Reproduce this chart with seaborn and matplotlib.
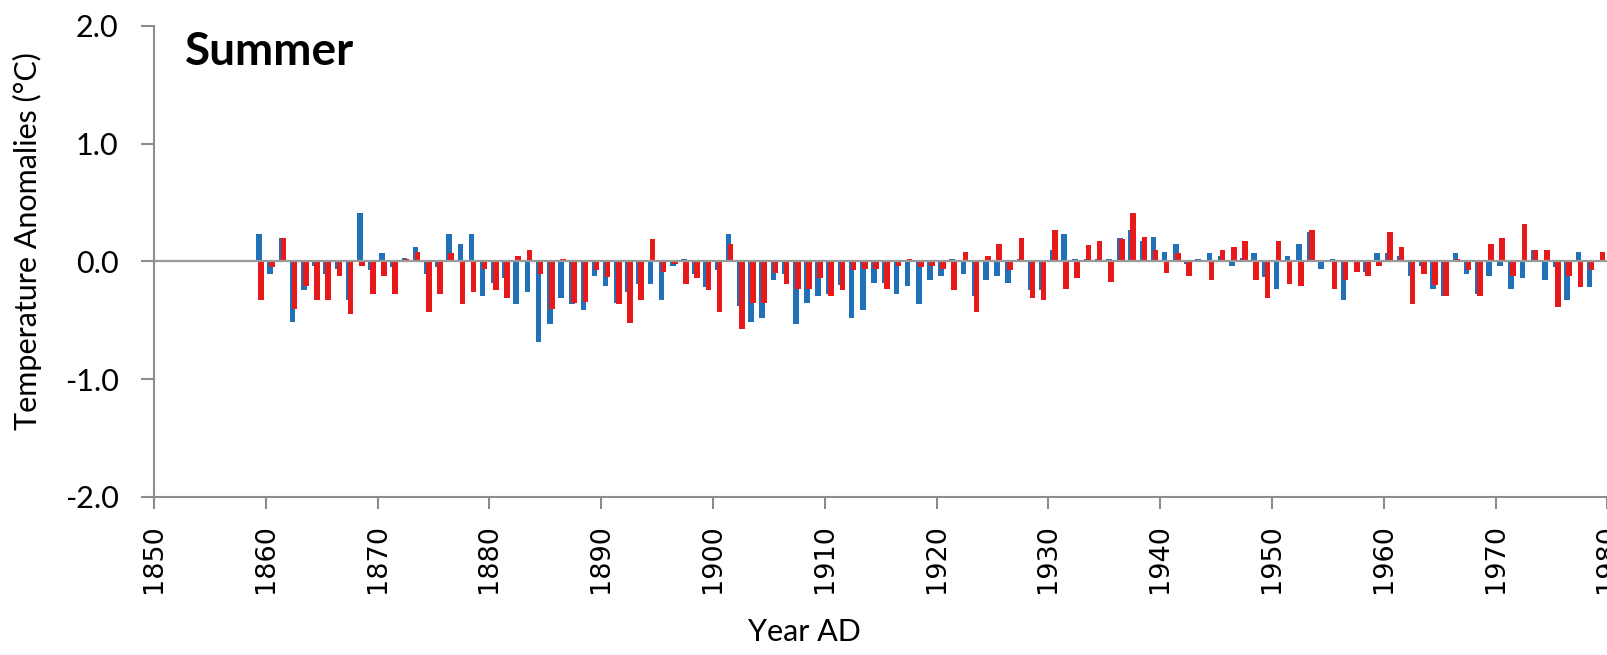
import numpy as np
import pandas as pd
import seaborn as sns
import matplotlib
matplotlib.use("Agg")
import matplotlib.pyplot as plt

# Summer temperature anomalies, two reconstructions (blue / red), 1859-1979
years = list(range(1859, 1980))

blue = [0.23, -0.11, 0.20, -0.51, -0.24, -0.04, -0.11, -0.06, -0.33, 0.41,            # 1859-1868
        -0.07, 0.07, -0.05, 0.03, 0.12, -0.11, -0.05, 0.23, 0.15, 0.23,                 # 1869-1878
        -0.29, -0.18, -0.14, -0.36, -0.26, -0.68, -0.53, -0.31, -0.36, -0.41,           # 1879-1888
        -0.12, -0.21, -0.35, -0.26, -0.19, -0.19, -0.33, -0.04, 0.02, -0.11,            # 1889-1898
        -0.22, -0.07, 0.23, -0.38, -0.51, -0.48, -0.16, -0.11, -0.53, -0.35,            # 1899-1908
        -0.29, -0.28, -0.20, -0.48, -0.41, -0.18, -0.18, -0.28, -0.21, -0.36,           # 1909-1918
        -0.16, -0.12, 0.02, -0.11, -0.29, -0.16, -0.12, -0.18, 0.02, -0.24,             # 1919-1928
        -0.24, 0.10, 0.23, 0.02, 0.02, 0.02, 0.02, 0.20, 0.27, 0.17,                     # 1929-1938
        0.21, 0.08, 0.15, -0.02, 0.02, 0.07, 0.05, -0.04, 0.03, 0.07,                   # 1939-1948
        -0.13, -0.23, 0.05, 0.15, 0.25, -0.06, 0.02, -0.33, 0.01, -0.09,                # 1949-1958
        0.07, 0.07, 0.05, -0.12, -0.04, -0.23, -0.29, 0.07, -0.11, -0.28,               # 1959-1968
        -0.12, -0.04, -0.23, -0.14, 0.10, -0.16, -0.05, -0.33, 0.08, -0.22,             # 1969-1978
        0.01]                                                                           # 1979

red = [-0.33, -0.05, 0.20, -0.40, -0.21, -0.33, -0.33, -0.12, -0.45, -0.04,            # 1859-1868
       -0.28, -0.12, -0.28, 0.02, 0.08, -0.43, -0.28, 0.07, -0.36, -0.26,               # 1869-1878
       -0.06, -0.24, -0.31, 0.05, 0.10, -0.11, -0.40, 0.02, -0.35, -0.34,               # 1879-1888
       -0.07, -0.13, -0.36, -0.52, -0.33, 0.19, -0.09, -0.02, -0.19, -0.14,             # 1889-1898
       -0.24, -0.43, 0.15, -0.57, -0.35, -0.35, -0.10, -0.19, -0.23, -0.23,             # 1899-1908
       -0.14, -0.29, -0.24, -0.07, -0.06, -0.06, -0.23, -0.04, 0.02, -0.05,             # 1909-1918
       -0.04, -0.06, -0.24, 0.08, -0.43, 0.05, 0.15, -0.07, 0.20, -0.31,                # 1919-1928
       -0.33, 0.27, -0.23, -0.14, 0.14, 0.17, -0.17, 0.19, 0.41, 0.21,                  # 1929-1938
       0.10, -0.10, 0.07, -0.12, 0.01, -0.16, 0.10, 0.12, 0.17, -0.16,                  # 1939-1948
       -0.31, 0.17, -0.19, -0.21, 0.27, 0.01, -0.23, -0.16, -0.09, -0.12,               # 1949-1958
       -0.04, 0.25, 0.12, -0.36, -0.11, -0.20, -0.29, 0.02, -0.07, -0.29,               # 1959-1968
       0.15, 0.20, -0.12, 0.32, 0.10, 0.10, -0.39, -0.12, -0.22, -0.07,                 # 1969-1978
       0.08]                                                                            # 1979

yticks = [-2.0, -1.0, 0.0, 1.0, 2.0]
xticks = list(range(1850, 2020, 10))

BLUE = "#2171b9"
RED = "#e8191b"
GREY = "#8c8c8c"

sns.set_theme(style="white")
plt.rcParams['font.family'] = ['Lato', 'DejaVu Sans']
plt.rcParams['text.color'] = 'black'
plt.rcParams['axes.labelcolor'] = 'black'

W, H = 1608, 655
fig = plt.figure(figsize=(W / 100, H / 100), dpi=100)
# axes runs past the right edge (the original figure is cropped at 1980)
px_per_year = 11.18
ax = fig.add_axes([154 / W, 1 - 497 / H, 167 * px_per_year / W, (497 - 26) / H])

yr = np.array(years)
df_b = pd.DataFrame({"pos": yr + 0.40, "val": blue})
df_r = pd.DataFrame({"pos": yr + 0.58, "val": red})

sns.barplot(data=df_b, x="pos", y="val", native_scale=True, width=0.5,
            color=BLUE, saturation=1, errorbar=None, linewidth=0, ax=ax)
sns.barplot(data=df_r, x="pos", y="val", native_scale=True, width=0.5,
            color=RED, saturation=1, errorbar=None, linewidth=0, ax=ax)

ax.axhline(0, color="#9a9a9a", lw=1.6, zorder=3)

ax.set_xlim(1850, 2017)
ax.set_ylim(-2.0, 2.0)
ax.set_yticks(yticks)
ax.set_yticklabels([f"{v:.1f}" for v in yticks], fontsize=22)
ax.set_xticks(xticks)
ax.set_xticklabels([str(v) for v in xticks], rotation=90, fontsize=19.5,
                   family=['DejaVu Sans'])

ax.tick_params(axis='y', left=True, direction='out', length=9.5, width=1.5,
               color=GREY, labelcolor='black', pad=16)
ax.tick_params(axis='x', bottom=True, direction='out', length=8.5, width=1.5,
               color=GREY, labelcolor='black', pad=11)

for s in ['top', 'right']:
    ax.spines[s].set_visible(False)
for s in ['left', 'bottom']:
    ax.spines[s].set_color(GREY)
    ax.spines[s].set_linewidth(1.5)

ax.set_ylabel("Temperature Anomalies (°C)", fontsize=22)
ax.yaxis.set_label_coords(42 / W, 1 - 241 / H, transform=fig.transFigure)
ax.set_xlabel("Year AD", fontsize=22)
ax.xaxis.set_label_coords(0.5, 1 - 618 / H, transform=fig.transFigure)
ax.xaxis.label.set_position((0.5, 1 - 618 / H))

fig.text(185 / W, 1 - 65 / H, "Summer", fontsize=33, fontweight='bold',
         va='baseline', ha='left', color='black')

fig.savefig("out.png", dpi=100)
